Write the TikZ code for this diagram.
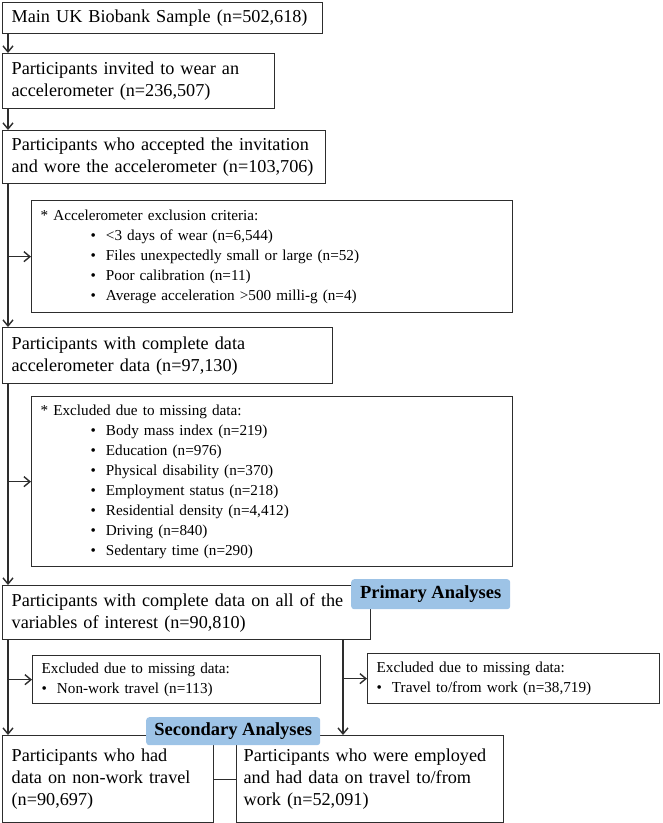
\documentclass[tikz,border=0pt]{standalone}
\usepackage{fontspec}
\setmainfont{Liberation Serif}
\usetikzlibrary{arrows.meta}

\definecolor{tagblue}{RGB}{157,195,230}
\definecolor{edge}{RGB}{45,45,45}

\tikzset{
    stage/.style={draw=edge, line width=1.3pt, anchor=north west, align=left, inner xsep=9pt, inner ysep=0pt, font=\fontsize{18.2}{22}\selectfont},
    excl/.style={stage, font=\fontsize{15.2}{20}\selectfont},
    tag/.style={fill=tagblue, rounded corners=3pt, anchor=north west, inner sep=0pt, font=\bfseries\fontsize{18.5}{21}\selectfont},
    flow/.style={draw=edge, line width=1.4pt, -{Straight Barb[length=6pt,width=10pt]}}
}
\newcommand{\bul}{\hspace*{50pt}\textbullet\hspace{10pt}}

\begin{document}
\begin{tikzpicture}[x=1pt, y=-1pt]
        \useasboundingbox (0,0) rectangle (663,823);
        \node[stage, text width=302pt, minimum height=31pt] (1) at (2,2) {Main UK Biobank Sample (n=502,618)};
        \node[stage, text width=254pt, minimum height=55pt] (2) at (2,53) {Participants invited to wear an\\accelerometer (n=236,507)};
        \node[stage, text width=305pt, minimum height=53pt] (3) at (2,130) {Participants who accepted the invitation\\and wore the accelerometer (n=103,706)};
        \node[excl, text width=463pt, minimum height=112pt] (e1) at (31,200) {* Accelerometer exclusion criteria:\\
            \bul <3 days of wear (n=6,544)\\
            \bul Files unexpectedly small or large (n=52)\\
            \bul Poor calibration (n=11)\\
            \bul Average acceleration >500 milli-g (n=4)};
        \node[stage, text width=312pt, minimum height=56pt] (4) at (2,327) {Participants with complete data\\accelerometer data (n=97,130)};
        \node[excl, text width=463pt, minimum height=170pt] (e2) at (31,396) {* Excluded due to missing data:\\
            \bul Body mass index (n=219)\\
            \bul Education (n=976)\\
            \bul Physical disability (n=370)\\
            \bul Employment status (n=218)\\
            \bul Residential density (n=4,412)\\
            \bul Driving (n=840)\\
            \bul Sedentary time (n=290)};
        \node[stage, text width=350pt, minimum height=54pt] (5) at (2,585) {Participants with complete data on all of the\\variables of interest (n=90,810)};
        \node[excl, text width=270pt, minimum height=48pt] (e3) at (32,655) {Excluded due to missing data:\\\textbullet\hspace{10pt}Non-work travel (n=113)};
        \node[excl, text width=274pt, minimum height=50pt] (e4) at (367,653) {Excluded due to missing data:\\\textbullet\hspace{10pt}Travel to/from work (n=38,719)};
        \node[stage, text width=193pt, minimum height=87pt] (6) at (2,735) {Participants who had\\data on non-work travel\\(n=90,697)};
        \node[stage, inner xsep=7pt, text width=253pt, minimum height=87pt] (7) at (236,735) {Participants who were employed\\and had data on travel to/from\\work (n=52,091)};
        \node[tag, minimum width=159pt, minimum height=30pt] (p) at (351,579) {Primary Analyses};
        \node[tag, minimum width=174pt, minimum height=28pt] (s) at (146,717) {Secondary Analyses};

        % trunk lines
        \coordinate (t) at (8,0);
        \coordinate (t2) at (343,0);
        \draw[flow] (1.south -| t) -- (2.north -| t);
        \draw[flow] (2.south -| t) -- (3.north -| t);
        \draw[flow] (3.south -| t) -- (4.north -| t);
        \draw[flow] (e1.west -| t) -- (e1.west);
        \draw[flow] (4.south -| t) -- (5.north -| t);
        \draw[flow] (e2.west -| t) -- (e2.west);
        \draw[flow] (5.south -| t) -- (6.north -| t);
        \draw[flow] (e3.west -| t) -- (e3.west);
        \draw[flow] (5.south -| t2) -- (7.north -| t2);
        \draw[flow] (e4.west -| t2) -- (e4.west);
        \draw[draw=edge, line width=1.3pt] (6.east) -- (7.west);
    \end{tikzpicture}
\end{document}
